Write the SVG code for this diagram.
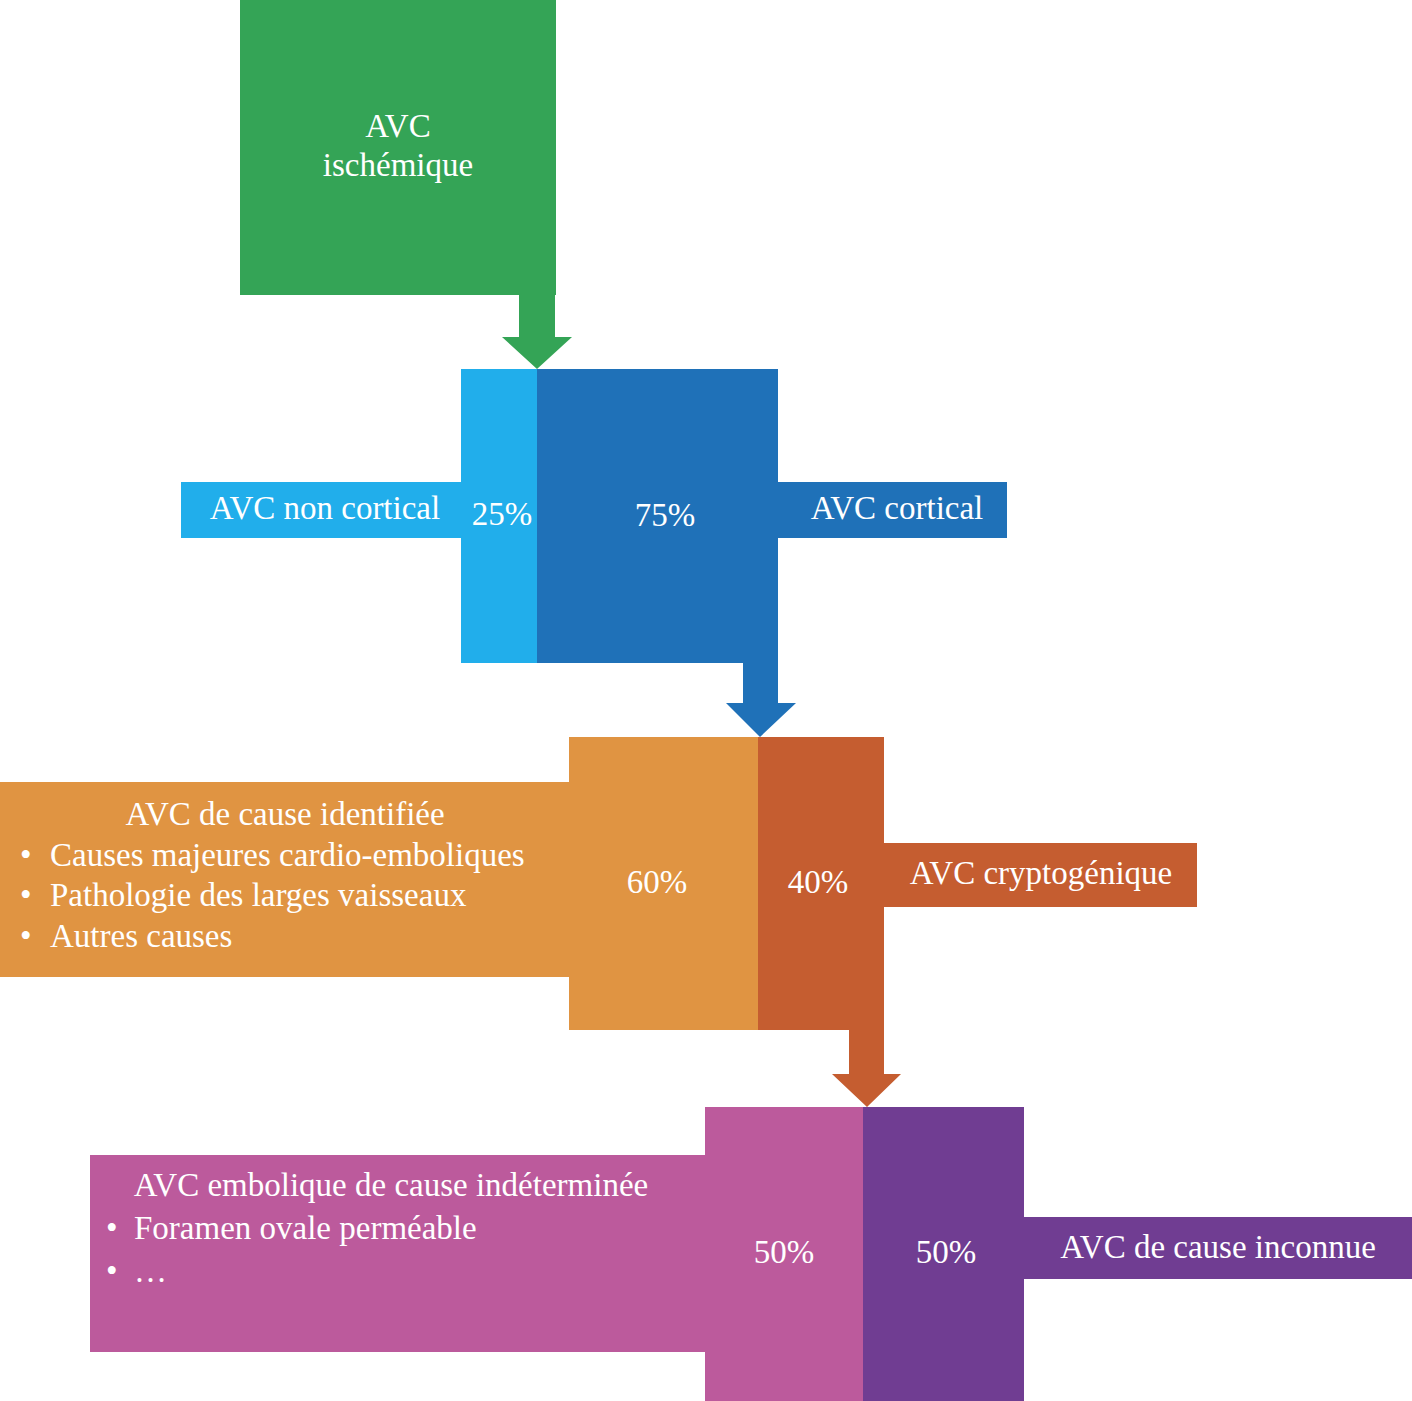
<svg xmlns="http://www.w3.org/2000/svg" width="1412" height="1401" viewBox="0 0 1412 1401">
<style>
text{font-family:"Liberation Serif","Times New Roman",serif;font-size:33px;fill:#FFFFFF}
.c{text-anchor:middle}
.green{fill:#34A456}
.lblue{fill:#21AEEB}
.dblue{fill:#1F71B8}
.orange{fill:#E09442}
.dorange{fill:#C55D30}
.pink{fill:#BC5A9C}
.purple{fill:#703D92}
</style>
<rect width="1412" height="1401" fill="#FFFFFF"/>
<g id="connectors">
<polygon class="green" points="519,293 555,293 555,337 572,337 537,369 502,337 519,337"/>
<polygon class="dblue" points="743,661 778,661 778,703 796,703 760,737 726,703 743,703"/>
<polygon class="dorange" points="849,1029 884,1029 884,1074 901,1074 867,1107 832,1074 849,1074"/>
</g>
<g id="avc-ischemique">
<rect class="green" x="240" y="0" width="316" height="295"/>
<text class="c" x="398" y="137">AVC</text>
<text class="c" x="398" y="176">ischémique</text>
</g>
<g id="avc-non-cortical">
<rect class="lblue" x="181" y="482" width="281" height="56"/>
<rect class="lblue" x="461" y="369" width="77" height="294"/>
<text class="c" x="325" y="519">AVC non cortical</text>
<text class="c" x="502" y="525">25%</text>
</g>
<g id="avc-cortical">
<rect class="dblue" x="537" y="369" width="241" height="294"/>
<rect class="dblue" x="777" y="482" width="230" height="56"/>
<text class="c" x="665" y="526">75%</text>
<text class="c" x="897" y="519">AVC cortical</text>
</g>
<g id="avc-cause-identifiee">
<rect class="orange" x="0" y="782" width="570" height="195"/>
<rect class="orange" x="569" y="737" width="190" height="293"/>
<text class="c" x="285" y="825">AVC de cause identifiée</text>
<text x="20" y="866">•</text><text x="50" y="866">Causes majeures cardio-emboliques</text>
<text x="20" y="906">•</text><text x="50" y="906">Pathologie des larges vaisseaux</text>
<text x="20" y="947">•</text><text x="50" y="947">Autres causes</text>
<text class="c" x="657" y="893">60%</text>
</g>
<g id="avc-cryptogenique">
<rect class="dorange" x="758" y="737" width="126" height="293"/>
<rect class="dorange" x="883" y="843" width="314" height="64"/>
<text class="c" x="818" y="893">40%</text>
<text class="c" x="1041" y="884">AVC cryptogénique</text>
</g>
<g id="avc-embolique">
<rect class="pink" x="90" y="1155" width="616" height="197"/>
<rect class="pink" x="705" y="1107" width="159" height="294"/>
<text class="c" x="391" y="1196">AVC embolique de cause indéterminée</text>
<text x="106" y="1239">•</text><text x="134" y="1239">Foramen ovale perméable</text>
<text x="106" y="1282">•</text><text x="134" y="1282">…</text>
<text class="c" x="784" y="1263">50%</text>
</g>
<g id="avc-cause-inconnue">
<rect class="purple" x="863" y="1107" width="161" height="294"/>
<rect class="purple" x="1023" y="1217" width="389" height="62"/>
<text class="c" x="946" y="1263">50%</text>
<text class="c" x="1218" y="1258">AVC de cause inconnue</text>
</g>
</svg>
